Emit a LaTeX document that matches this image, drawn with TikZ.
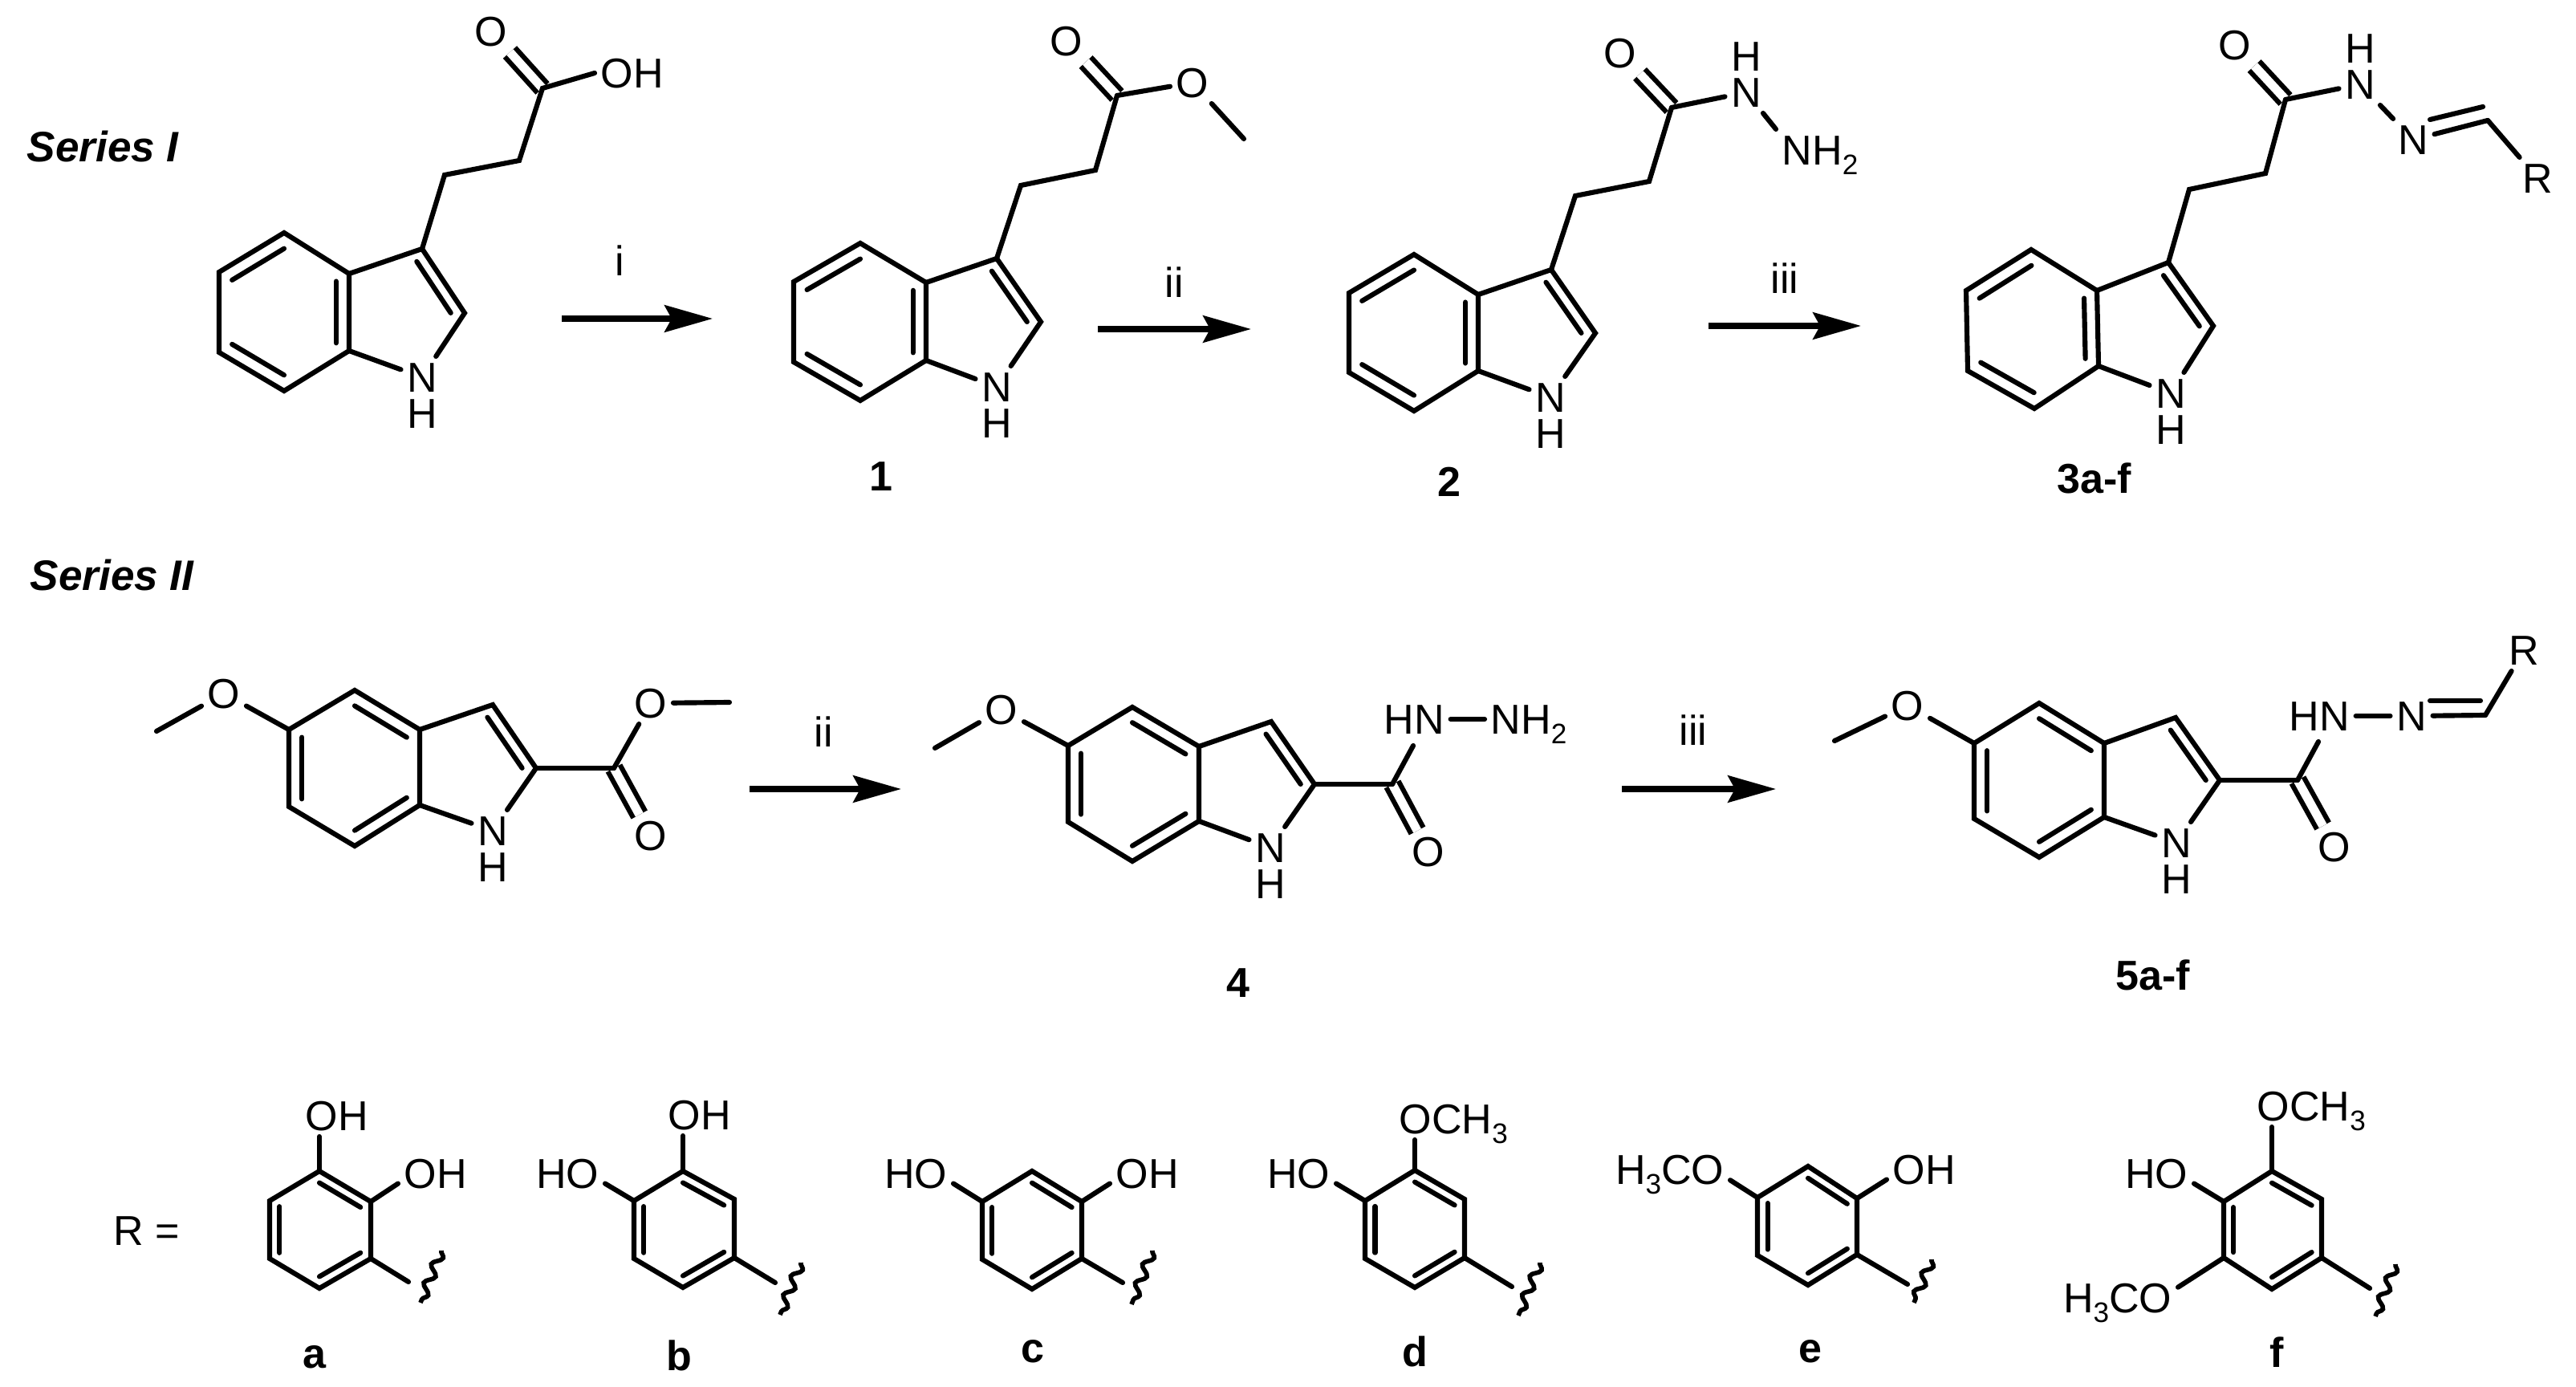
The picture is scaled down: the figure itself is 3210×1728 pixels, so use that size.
\documentclass[tikz,border=0pt]{standalone}
\usepackage{fontspec}
\setmainfont{Liberation Sans}
\usetikzlibrary{arrows.meta,calc,positioning,decorations.pathmorphing}
\tikzset{
	bond/.style={draw,line width=1.75pt,line cap=round,line join=miter},
	dblbond/.style={bond,double,double distance=3.1pt,line cap=butt},
	rxn/.style={draw,line width=2pt,-{Stealth[length=17pt,width=9.5pt,inset=2.5pt]}},
	squig/.style={draw,line width=1.6pt,decorate,decoration={snake,segment length=.25cm,amplitude=.055cm}},
	atom/.style={font=\fontsize{14.8}{16}\selectfont,inner sep=2pt,text height=10.4pt,text depth=0pt},
	cmpd/.style={font=\fontsize{14.8}{16}\selectfont\bfseries,inner sep=0pt,anchor=base},
	seriesname/.style={font=\fontsize{15.1}{16}\selectfont\bfseries\itshape,inner sep=0pt,anchor=base west}
}
\newcommand{\atomsub}[1]{\raisebox{-3.6pt}{\fontsize{10}{10}\selectfont #1}}
\newcommand{\inbond}[3]{\path[bond] ($(#1)!.2!(#3)$) edge ($(#2)!.2!(#3)$);}
\newcommand{\hexring}[7]{
	\coordinate (#1t) at #2;
	\coordinate (#1ur) at #3;
	\coordinate (#1lr) at #4;
	\coordinate (#1b) at #5;
	\coordinate (#1ll) at #6;
	\coordinate (#1ul) at #7;
	\coordinate (#1m) at ($(#1t)!.5!(#1b)$);
	\draw[bond] (#1t) -- (#1ur) -- (#1lr) -- (#1b) -- (#1ll) -- (#1ul) -- cycle;
}
\newcommand{\kekA}[1]{\inbond{#1ul}{#1t}{#1m}\inbond{#1ur}{#1lr}{#1m}\inbond{#1ll}{#1b}{#1m}}
\newcommand{\kekB}[1]{\inbond{#1t}{#1ur}{#1m}\inbond{#1ul}{#1ll}{#1m}\inbond{#1lr}{#1b}{#1m}}
\newcommand{\pyrrole}[4]{
	\coordinate (#1ca) at #2;
	\coordinate (#1cb) at #3;
	\coordinate (#1j) at ($(#1ur)!.5!(#1lr)$);
	\coordinate (#1k) at ($(#1j)!.4!(#1cb)$);
	\node[atom] (#1n) at #4 {N};
	\node[atom,below=-0.07cm of #1n] (#1nh) {H};
	\draw[bond] (#1ur) -- (#1ca) -- (#1cb) -- (#1n);
	\path[bond] (#1lr) edge (#1n);
	\inbond{#1ca}{#1cb}{#1k}
}
\newcommand{\methoxy}[3]{
	\node[atom] (#1oa) at #2 {O};
	\coordinate (#1me) at #3;
	\path[bond] (#1ul) edge (#1oa) (#1oa) edge (#1me);
}
\newcommand{\propchain}[4]{
	\coordinate (#1x) at #2;
	\coordinate (#1y) at #3;
	\coordinate (#1c) at #4;
}
\newcommand{\wavy}[4]{
	\coordinate (#1s) at #2;
	\coordinate (#1wa) at #3;
	\coordinate (#1wb) at #4;
	\path[bond] (#1lr) edge (#1s);
	\path[squig] (#1wa) -- (#1wb);
}

\begin{document}
\begin{tikzpicture}[x=0.01cm,y=-0.01cm]
	\useasboundingbox (0,0) rectangle (3210,1728);
	\node[seriesname] (series1) at (33,202) {Series I};
	\node[seriesname] (series2) at (37,735) {Series II};

	\hexring{a}{(354,290)}{(435,341)}{(435,437)}{(354,487)}{(273,439)}{(273,339)}
	\kekA{a}
	\pyrrole{a}{(526,310)}{(579,390)}{(526,470)}
	\propchain{a}{(554,218)}{(647,200)}{(676,110)}
	\node[atom] (ao) at (612,39) {O};
	\node[atom,anchor=west] (aoh) at (741,91) {OH};
	\draw[dblbond] (ac) -- (ao);
	\draw[bond] (aca) -- (ax) -- (ay) -- (ac) -- (aoh.west);

	\hexring{b}{(1072,303)}{(1154,352)}{(1154,449)}{(1072,499)}{(989,451)}{(989,351)}
	\kekA{b}
	\pyrrole{b}{(1242,322)}{(1297,401)}{(1242,482)}
	\propchain{b}{(1272,231)}{(1365,212)}{(1392,119)}
	\node[atom] (bo) at (1329,51) {O};
	\node[atom] (boe) at (1486,103) {O};
	\coordinate (bme) at (1550,173);
	\draw[dblbond] (bc) -- (bo);
	\draw[bond] (bca) -- (bx) -- (by) -- (bc);
	\path[bond] (bc) edge (boe) (boe) edge (bme);
	\node[cmpd] (cmpd1) at (1098,612) {1};

	\hexring{c}{(1762,317)}{(1842,367)}{(1842,462)}{(1762,512)}{(1681,464)}{(1681,365)}
	\kekA{c}
	\pyrrole{c}{(1933,336)}{(1988,415)}{(1932,495)}
	\propchain{c}{(1963,244)}{(2055,226)}{(2083,134)}
	\node[atom] (co) at (2019,66) {O};
	\node[atom] (chn) at (2176,115) {N};
	\node[atom,above=-0.07cm of chn] (chh) {H};
	\node[atom,anchor=west] (cnh) at (2213,187) {NH\atomsub{2}};
	\draw[dblbond] (cc) -- (co);
	\draw[bond] (cca) -- (cx) -- (cy) -- (cc);
	\path[bond] (cc) edge (chn) (chn) edge (cnh.north west);
	\node[cmpd] (cmpd2) at (1806,618) {2};

	\hexring{d}{(2531,311)}{(2613,362)}{(2615,456)}{(2535,509)}{(2452,462)}{(2450,362)}
	\kekA{d}
	\pyrrole{d}{(2702,327)}{(2758,406)}{(2705,490)}
	\propchain{d}{(2728,236)}{(2823,216)}{(2848,124)}
	\node[atom] (do) at (2785,56) {O};
	\node[atom] (dhn) at (2941,105) {N};
	\node[atom,above=-0.07cm of dhn] (dhh) {H};
	\node[atom] (din) at (3007,174) {N};
	\node[atom] (dr) at (3162,222) {R};
	\coordinate (dch) at (3100,150);
	\coordinate (dua) at (3028,149);
	\coordinate (dub) at (3094,133);
	\draw[dblbond] (dc) -- (do);
	\draw[bond] (dca) -- (dx) -- (dy) -- (dc);
	\path[bond] (dc) edge (dhn) (dhn) edge (din) (din) edge (dch) (dch) edge (dr) (dua) edge (dub);
	\node[cmpd] (cmpd3) at (2610,614) {3a-f};

	\hexring{e}{(442,860)}{(523,909)}{(523,1003)}{(442,1054)}{(360,1005)}{(360,909)}
	\kekB{e}
	\pyrrole{e}{(614,878)}{(668,957)}{(614,1035)}
	\methoxy{e}{(279,864)}{(195,911)}
	\coordinate (ec) at (765,957);
	\node[atom] (eoe) at (811,876) {O};
	\node[atom] (eo) at (811,1041) {O};
	\coordinate (eem) at (909,875);
	\draw[dblbond] (ec) -- (eo);
	\path[bond] (ecb) edge (ec) (ec) edge (eoe) (eoe) edge (eem);

	\hexring{f}{(1411,881)}{(1494,930)}{(1494,1023)}{(1411,1073)}{(1331,1024)}{(1331,929)}
	\kekB{f}
	\pyrrole{f}{(1584,899)}{(1638,977)}{(1583,1056)}
	\methoxy{f}{(1248,884)}{(1165,932)}
	\coordinate (fc) at (1735,977);
	\coordinate (fj1) at (1761,929);
	\node[atom] (fo) at (1780,1061) {O};
	\node[atom,anchor=west] (fhn) at (1717,896) {HN};
	\node[atom,anchor=west] (fnh) at (1850,896) {NH\atomsub{2}};
	\draw[dblbond] (fc) -- (fo);
	\path[bond] (fcb) edge (fc) (fc) edge (fj1) (fhn.east) edge (fnh.west);
	\node[cmpd] (cmpd4) at (1543,1242) {4};

	\hexring{g}{(2541,876)}{(2622,926)}{(2622,1018)}{(2541,1068)}{(2460,1020)}{(2460,926)}
	\kekB{g}
	\pyrrole{g}{(2711,894)}{(2766,972)}{(2712,1050)}
	\methoxy{g}{(2377,879)}{(2286,923)}
	\coordinate (gc) at (2863,972);
	\coordinate (gj1) at (2889,924);
	\node[atom] (go) at (2909,1055) {O};
	\node[atom,anchor=west] (ghn) at (2845,892) {HN};
	\node[atom] (gin) at (3005,892) {N};
	\node[atom] (gr) at (3145,810) {R};
	\coordinate (gch) at (3097,891);
	\coordinate (gua) at (3028,873);
	\coordinate (gub) at (3091,873);
	\draw[dblbond] (gc) -- (go);
	\path[bond] (gcb) edge (gc) (gc) edge (gj1) (ghn.east) edge (gin) (gin) edge (gch) (gch) edge (gr) (gua) edge (gub);
	\node[cmpd] (cmpd5) at (2683,1233) {5a-f};

	\coordinate (s1) at (700,397);
	\coordinate (e1) at (888,397);
	\coordinate (s2) at (1368,410);
	\coordinate (e2) at (1559,410);
	\coordinate (s3) at (2129,406);
	\coordinate (e3) at (2319,406);
	\coordinate (s4) at (934,983);
	\coordinate (e4) at (1123,983);
	\coordinate (s5) at (2021,983);
	\coordinate (e5) at (2213,983);
	\path[rxn] (s1) -- (e1);
	\path[rxn] (s2) -- (e2);
	\path[rxn] (s3) -- (e3);
	\path[rxn] (s4) -- (e4);
	\path[rxn] (s5) -- (e5);
	\node[atom] (cond1) at (772,325) {i};
	\node[atom] (cond2) at (1463,352) {ii};
	\node[atom] (cond3) at (2224,347) {iii};
	\node[atom] (cond4) at (1026,912) {ii};
	\node[atom] (cond5) at (2110,910) {iii};

	\node[atom] (rlabel) at (183,1533) {R =};

	\hexring{ra}{(398,1459)}{(462,1497)}{(462,1568)}{(398,1605)}{(336,1568)}{(336,1496)}
	\kekB{ra}
	\node[atom,anchor=west] (raoh) at (373,1390) {OH};
	\node[atom,anchor=west] (raoi) at (496,1462) {OH};
	\path[bond] (rat) edge (rat |- raoh.south) (raur) edge (raoi.195);
	\wavy{ra}{(509,1597)}{(550,1558)}{(524,1623)}
	\node[cmpd] (labela) at (392,1704) {a};

	\hexring{rb}{(851,1459)}{(915,1494)}{(915,1567)}{(851,1604)}{(790,1568)}{(790,1496)}
	\kekB{rb}
	\node[atom,anchor=west] (rboh) at (825,1389) {OH};
	\node[atom,anchor=east] (rbho) at (754,1462) {HO};
	\path[bond] (rbt) edge (rbt |- rboh.south) (rbul) edge (rbho.345);
	\wavy{rb}{(966,1598)}{(998,1573)}{(972,1638)}
	\node[cmpd] (labelb) at (846,1707) {b};

	\hexring{rc}{(1286,1459)}{(1348,1497)}{(1348,1568)}{(1286,1606)}{(1224,1569)}{(1224,1497)}
	\kekB{rc}
	\node[atom,anchor=west] (rcoh) at (1383,1462) {OH};
	\node[atom,anchor=east] (rcho) at (1188,1462) {HO};
	\path[bond] (rcur) edge (rcoh.195) (rcul) edge (rcho.345);
	\wavy{rc}{(1399,1598)}{(1436,1558)}{(1410,1625)}
	\node[cmpd] (labelc) at (1287,1697) {c};

	\hexring{rd}{(1763,1458)}{(1825,1494)}{(1825,1567)}{(1763,1604)}{(1701,1568)}{(1701,1496)}
	\kekB{rd}
	\node[atom,anchor=west] (rdom) at (1736,1394) {OCH\atomsub{3}};
	\node[atom,anchor=east] (rdho) at (1665,1462) {HO};
	\path[bond] (rdt) edge (rdt |- rdom.south) (rdul) edge (rdho.345);
	\wavy{rd}{(1884,1603)}{(1919,1573)}{(1892,1639)}
	\node[cmpd] (labeld) at (1763,1702) {d};

	\hexring{re}{(2253,1453)}{(2314,1493)}{(2314,1563)}{(2253,1601)}{(2190,1564)}{(2190,1492)}
	\kekB{re}
	\node[atom,anchor=west] (reoh) at (2351,1457) {OH};
	\node[atom,anchor=east] (reom) at (2156,1457) {H\atomsub{3}CO};
	\path[bond] (reur) edge (reoh.195) (reul) edge (reom.350);
	\wavy{re}{(2377,1600)}{(2407,1569)}{(2385,1623)}
	\node[cmpd] (labele) at (2256,1697) {e};

	\hexring{rf}{(2831,1459)}{(2893,1494)}{(2893,1567)}{(2831,1606)}{(2771,1567)}{(2771,1497)}
	\kekB{rf}
	\node[atom,anchor=west] (rfom) at (2805,1378) {OCH\atomsub{3}};
	\node[atom,anchor=east] (rfho) at (2734,1462) {HO};
	\node[atom,anchor=east] (rfol) at (2714,1617) {H\atomsub{3}CO};
	\path[bond] (rft) edge (rft |- rfom.south) (rful) edge (rfho.345) (rfll) edge (rfol.10);
	\wavy{rf}{(2953,1605)}{(2985,1575)}{(2960,1640)}
	\node[cmpd] (labelf) at (2837,1703) {f};
\end{tikzpicture}
\end{document}
